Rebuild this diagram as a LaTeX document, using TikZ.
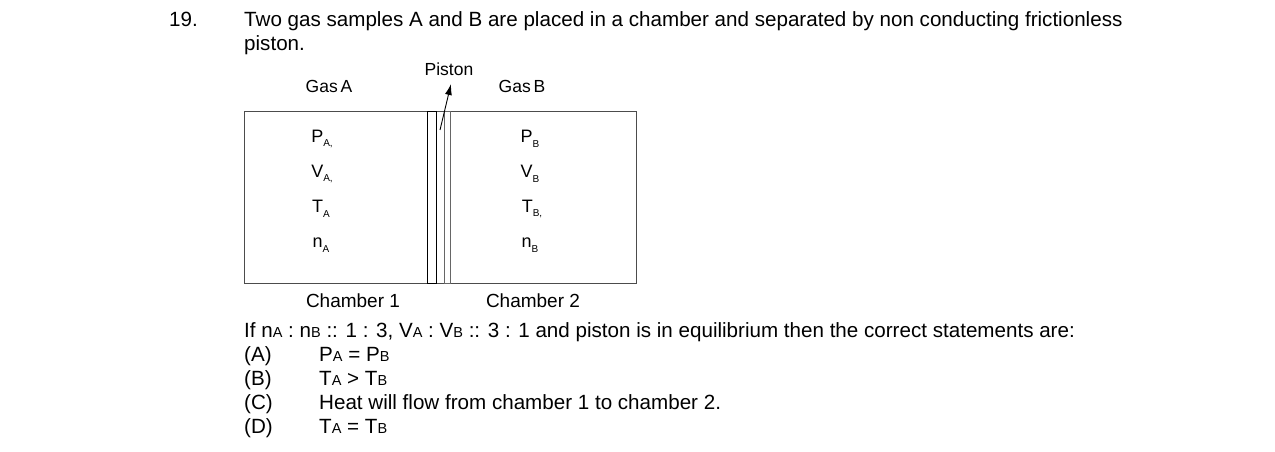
\documentclass[tikz,border=0pt]{standalone}
\usepackage{fontspec}
\usetikzlibrary{arrows.meta}
\setmainfont{Liberation Sans}
\newcommand{\sbx}[1]{\raisebox{-0.25em}{\fontsize{10}{10}\selectfont #1}}
\newcommand{\sbl}[1]{{\fontsize{14.5}{14.5}\selectfont #1}}
\begin{document}
\begin{tikzpicture}[x=1pt,y=-1pt,
  big/.style={anchor=base west,inner sep=0pt,font=\fontsize{20.6}{20.6}\selectfont},
  lab/.style={inner sep=0pt,font=\fontsize{17.5}{17.5}\selectfont},
  var/.style={inner sep=0pt,font=\fontsize{18}{18}\selectfont},
  wall/.style={draw=black,line width=0.8pt}]
\useasboundingbox (0,0) rectangle (1275,452);
\node[big] (num) at (169,27) {19.};
\node[big] (q1) at (244,27) {Two gas samples A and B are placed in a chamber and separated by non conducting frictionless};
\node[big] (q2) at (244,51) {piston.};
\draw[wall,draw=black!70] (244,111) rectangle (636,283);
\draw[wall] (427,111) rectangle (436.5,283);
\draw[wall,draw=black!60] (444,111) rectangle (450,283);
\node[lab] (ga) at (329,86) {Gas\,A};
\node[lab] (gb) at (522,86) {Gas\,B};
\node[lab] (pis) at (449,69) {Piston};
\coordinate (pt) at (440,130);
\draw[-{Latex[length=11pt,width=7pt]},line width=0.9pt] (pt) -- (451,84);
\node[var] (pa) at (322,139) {P\sbx{A,}};
\node[var] (va) at (322,174) {V\sbx{A,}};
\node[var] (ta) at (321,209) {T\sbx{A}};
\node[var] (na) at (321,245) {n\sbx{A}};
\node[var] (pb) at (530,139) {P\sbx{B}};
\node[var] (vb) at (530,174) {V\sbx{B}};
\node[var] (tb) at (532,209) {T\sbx{B,}};
\node[var] (nb) at (530,245) {n\sbx{B}};
\node[lab,font=\fontsize{19}{19}\selectfont] (c1) at (353,301) {Chamber 1};
\node[lab,font=\fontsize{19}{19}\selectfont] (c2) at (533,301) {Chamber 2};
\node[big] (cond) at (244,337) {If n\sbl{A} : n\sbl{B} :: 1 : 3, V\sbl{A} : V\sbl{B} :: 3 : 1 and piston is in equilibrium then the correct statements are:};
\node[big] (oa) at (244,361) {(A)};
\node[big] (ta1) at (319,361) {P\sbl{A} = P\sbl{B}};
\node[big] (ob) at (244,385) {(B)};
\node[big] (tb1) at (319,385) {T\sbl{A} > T\sbl{B}};
\node[big] (oc) at (244,409) {(C)};
\node[big] (tc1) at (319,409) {Heat will flow from chamber 1 to chamber 2.};
\node[big] (od) at (244,433) {(D)};
\node[big] (td1) at (319,433) {T\sbl{A} = T\sbl{B}};
\end{tikzpicture}
\end{document}
